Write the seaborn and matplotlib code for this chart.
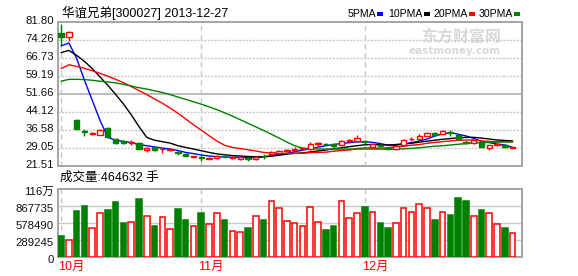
import numpy as np
import pandas as pd
import matplotlib
matplotlib.use("Agg")
import matplotlib.pyplot as plt
import matplotlib.transforms as mtransforms
from matplotlib.patches import Rectangle
import seaborn as sns

# ---------------- data ----------------
title_text = "华谊兄弟[300027] 2013-12-27"
vol_text = "成交量:464632 手"
month_labels = ["10月", "11月", "12月"]
month_idx = [0, 18, 39]
price_ticks = [21.51, 29.05, 36.58, 44.12, 51.66, 59.19, 66.73, 74.26, 81.80]
vol_ticks = [0, 289245, 578490, 867735, 1156980]
vol_tick_labels = ["0", "289245", "578490", "867735", "116万"]
ma_names = ["5PMA", "10PMA", "20PMA", "30PMA"]

opens = [77.3, 75.5, 40.6, 36.2, 34.9, 34.6, 37.4, 32.9, 31.8, 31.3,
         31.3, 28.2, 29.6, 28.5, 28.4, 27.2, 26.4, 25.4, 25.1, 24.6,
         25.0, 25.7, 24.9, 24.5, 24.7, 24.3, 25.9, 26.4, 26.8, 27.9,
         28.4, 28.7, 28.5, 30.9, 30.9, 30.7, 30.3, 32.0, 32.1, 31.9,
         29.3, 30.2, 29.1, 28.5, 30.3, 32.7, 32.9, 34.2, 35.4, 35.0,
         35.5, 34.5, 31.5, 31.3, 31.6, 29.2, 30.3, 30.4, 29.2]
highs = [80.8, 77.9, 41.3, 36.9, 35.6, 37.2, 38.0, 33.3, 32.2, 32.4,
         31.6, 29.3, 29.9, 29.3, 29.0, 27.9, 26.9, 25.8, 25.7, 25.2,
         26.3, 26.1, 25.6, 25.6, 25.3, 25.6, 26.4, 27.9, 28.3, 28.8,
         29.3, 29.6, 31.4, 31.7, 31.3, 31.3, 32.3, 32.7, 34.4, 32.5,
         30.9, 30.9, 29.3, 30.2, 32.7, 33.7, 34.8, 35.9, 35.9, 36.6,
         36.6, 34.9, 32.5, 32.4, 31.9, 30.5, 31.0, 30.7, 29.6]
lows = [72.3, 73.8, 36.9, 33.9, 34.6, 34.3, 33.2, 30.9, 30.8, 30.4,
        28.6, 27.4, 27.8, 27.0, 27.8, 26.0, 25.5, 25.3, 23.6, 24.4,
        24.3, 25.0, 24.6, 24.2, 23.6, 24.2, 24.5, 25.6, 26.6, 27.6,
        27.9, 28.3, 28.3, 29.8, 30.1, 29.0, 30.0, 31.0, 31.7, 30.8,
        29.0, 29.6, 28.6, 28.4, 30.1, 32.0, 32.6, 33.9, 33.9, 34.8,
        34.2, 32.6, 30.9, 30.9, 29.3, 28.4, 30.0, 29.2, 29.0]
closes = [75.6, 77.6, 37.1, 35.9, 35.2, 36.7, 33.6, 31.3, 31.0, 31.5,
          28.7, 29.0, 28.2, 28.7, 28.6, 26.8, 25.8, 25.7, 24.9, 25.0,
          25.8, 25.5, 25.1, 25.3, 24.3, 25.4, 25.7, 27.5, 27.9, 28.2,
          28.6, 28.9, 30.7, 31.1, 30.7, 30.0, 32.0, 32.2, 33.1, 31.7,
          30.6, 30.0, 28.8, 29.9, 32.4, 32.9, 34.1, 35.3, 34.6, 36.0,
          35.4, 32.7, 31.3, 32.4, 29.6, 30.3, 30.8, 29.3, 29.5]
volumes = [359000, 285000, 786000, 872000, 496000, 747000, 804000, 940000, 581000, 593000,
           992000, 695000, 530000, 678000, 473000, 821000, 633000, 524000, 752000, 559000,
           747000, 633000, 439000, 422000, 496000, 695000, 633000, 952000, 832000, 610000,
           576000, 524000, 849000, 593000, 462000, 530000, 952000, 661000, 747000, 855000,
           764000, 581000, 496000, 576000, 832000, 764000, 900000, 832000, 633000, 764000,
           718000, 1009000, 957000, 695000, 804000, 747000, 559000, 496000, 405000]
ma5 = [71.8, 73.0, 66.5, 57.4, 49.0, 40.6, 33.5, 32.3, 31.8, 31.3,
       30.5, 30.0, 29.5, 29.0, 28.6, 28.0, 27.2, 26.7, 26.1, 25.7,
       25.4, 25.3, 25.2, 25.1, 25.0, 25.0, 25.3, 25.8, 26.4, 26.8,
       27.5, 28.1, 28.8, 29.4, 30.0, 30.5, 30.9, 31.3, 31.6, 31.7,
       31.4, 30.9, 30.2, 30.2, 30.7, 31.3, 32.0, 32.8, 34.1, 34.9,
       35.5, 34.8, 34.1, 33.1, 31.8, 31.3, 30.7, 30.3, 29.3]
ma10 = [69.0, 69.9, 67.8, 65.3, 62.3, 58.8, 55.3, 51.5, 47.5, 43.0,
        38.0, 33.5, 32.3, 31.7, 31.1, 30.0, 29.3, 28.6, 27.9, 27.2,
        26.6, 26.2, 25.9, 25.7, 25.5, 25.4, 25.4, 25.6, 26.0, 26.5,
        26.8, 27.0, 27.4, 27.8, 28.2, 28.7, 29.1, 29.6, 30.0, 30.4,
        30.5, 30.4, 30.3, 30.5, 30.8, 31.0, 31.5, 31.9, 32.3, 32.7,
        33.0, 33.3, 33.5, 33.5, 33.2, 32.8, 32.4, 32.2, 32.0]
ma20 = [62.3, 63.9, 63.2, 62.4, 61.4, 60.3, 59.1, 57.8, 56.4, 54.8,
        53.1, 51.4, 49.6, 47.8, 45.8, 43.6, 41.2, 38.8, 36.5, 34.2,
        32.0, 30.2, 29.3, 28.8, 28.3, 27.8, 27.2, 26.9, 26.8, 26.8,
        26.8, 26.8, 27.1, 27.2, 27.3, 27.7, 28.0, 28.2, 28.8, 29.1,
        29.1, 28.9, 29.2, 29.5, 29.8, 30.2, 30.5, 31.0, 31.4, 31.7,
        32.0, 32.3, 32.4, 32.4, 32.0, 31.8, 31.7, 31.7, 31.6]
ma30 = [57.0, 57.8, 57.8, 57.7, 57.4, 57.0, 56.7, 56.3, 55.7, 55.0,
        54.3, 53.7, 53.0, 52.3, 51.4, 50.4, 49.4, 48.4, 47.4, 46.3,
        45.1, 43.8, 42.4, 40.9, 39.4, 37.9, 36.4, 34.8, 33.2, 31.5,
        30.0, 29.0, 28.7, 28.6, 28.6, 28.6, 28.6, 28.6, 28.6, 28.6,
        28.6, 28.6, 28.6, 28.6, 28.7, 28.9, 29.1, 29.5, 29.8, 30.0,
        30.3, 30.6, 30.9, 31.1, 31.3, 31.4, 31.5, 31.6, 31.6]

# ---------------- style ----------------
sns.set_theme(style="white")
FONTS = ['Liberation Sans', 'DejaVu Sans', 'Noto Sans CJK SC']
plt.rcParams['font.family'] = FONTS
plt.rcParams['axes.unicode_minus'] = False

RED = "#ff0000"
GREEN = "#008000"
BLUE = "#0000ff"
BLACK = "#000000"
FRAME = "#a4a4a4"
GRID = "#c8c8c8"
ma_colors = [BLUE, BLACK, RED, GREEN]

W, H = 578, 276
fig = plt.figure(figsize=(W / 100, H / 100), dpi=100)
fig.patch.set_facecolor("white")


def fx(x):
    return x / W


def fy(y):
    return 1 - y / H


ax = fig.add_axes([fx(58), fy(166), (522 - 58) / W, (166 - 22) / H])
axv = fig.add_axes([fx(58), fy(257), (522 - 58) / W, (257 - 189) / H])

n = len(closes)
idx = np.arange(n)
df = pd.DataFrame({"idx": idx, "open": opens, "high": highs, "low": lows,
                   "close": closes, "volume": volumes})
df["up"] = df["close"] >= df["open"]

# ---------------- price panel ----------------
for t in price_ticks[1:-1]:
    if abs(t - 51.66) < 1e-6:
        ax.axhline(t, color="#a8a8a8", lw=1.1, zorder=1)
    else:
        ax.axhline(t, color=GRID, lw=1.0, ls=(0, (1.5, 1.0)), zorder=1)
for m in month_idx:
    ax.axvline(m, color="#c4c4c4", lw=1.0, ls=(0, (3.5, 3)), zorder=1)

# watermark
ax.text(0.955, 0.895, "东方财富网", transform=ax.transAxes, ha="right", va="center",
        fontsize=11.5, fontweight="bold", color="#d9d9d9", family=FONTS, zorder=0.5)
ax.text(0.955, 0.80, "eastmoney.com", transform=ax.transAxes, ha="right", va="center",
        fontsize=7.5, fontweight="bold", color="#d9d9d9", family=['DejaVu Sans'], zorder=0.5)

# MA lines via seaborn
ma_long = pd.DataFrame({
    "idx": np.concatenate([idx] * 4),
    "value": np.concatenate([ma5, ma10, ma20, ma30]),
    "ma": np.repeat(ma_names, n),
})
sns.lineplot(data=ma_long, x="idx", y="value", hue="ma", hue_order=ma_names,
             palette=dict(zip(ma_names, ma_colors)), ax=ax, legend=False,
             linewidth=1.0, zorder=3, estimator=None, sort=True)

# candles
cw = 0.68
col = np.where(df["up"], RED, GREEN)
ax.vlines(df["idx"], df["low"], df["high"], colors=col, lw=1.0, zorder=4)
body_bottom = np.minimum(df["open"], df["close"])
body_h = np.maximum(np.abs(df["close"] - df["open"]), 0.15)
face = np.where(df["up"], "white", GREEN)
ax.bar(df["idx"], body_h, bottom=body_bottom, width=cw, color=face,
       edgecolor=col, linewidth=1.0, zorder=5)

ax.set_xlim(-0.4, 59.2)
ax.set_ylim(price_ticks[0], price_ticks[-1])
ax.set_xticks([])
ax.set_yticks(price_ticks)
ax.set_yticklabels([f"{t:.2f}" for t in price_ticks])
ax.set_xlabel("")
ax.set_ylabel("")
ax.tick_params(axis="y", length=0, pad=3, labelsize=8.2, labelcolor="#111111")
off_up = mtransforms.ScaledTranslation(0, 2 / 100, fig.dpi_scale_trans)
for lab in ax.get_yticklabels():
    lab.set_transform(lab.get_transform() + off_up)
for s in ax.spines.values():
    s.set_color(FRAME)
    s.set_linewidth(1.4)
    s.set_visible(True)

# ---------------- volume panel ----------------
for t in vol_ticks[1:-1]:
    axv.axhline(t, color=GRID, lw=1.0, zorder=1)
for m in month_idx:
    axv.axvline(m, color="#c4c4c4", lw=1.0, ls=(0, (3.5, 3)), zorder=1)
vface = np.where(df["up"], "white", GREEN)
axv.bar(df["idx"], df["volume"], width=0.72, color=vface, edgecolor=col,
        linewidth=1.1, zorder=3)
axv.set_xlim(-0.4, 59.2)
axv.set_ylim(vol_ticks[0], vol_ticks[-1])
axv.set_xticks([])
axv.set_yticks(vol_ticks)
axv.set_yticklabels(vol_tick_labels)
axv.set_xlabel("")
axv.set_ylabel("")
axv.tick_params(axis="y", length=0, pad=3, labelsize=8.2, labelcolor="#111111")
off_dn = mtransforms.ScaledTranslation(0, -2 / 100, fig.dpi_scale_trans)
for lab in axv.get_yticklabels():
    lab.set_transform(lab.get_transform() + off_dn)
for s in axv.spines.values():
    s.set_color(FRAME)
    s.set_linewidth(1.4)
    s.set_visible(True)

# month labels
tr = mtransforms.blended_transform_factory(axv.transData, axv.transAxes)
for m, lab in zip(month_idx, month_labels):
    axv.text(m - 0.38, -0.15, lab, transform=tr, ha="left", va="center",
             fontsize=9, color=RED, family=FONTS)

# ---------------- header texts ----------------
fig.text(fx(62), fy(13), title_text, ha="left", va="center", fontsize=9,
         color=BLACK, family=FONTS)
fig.text(fx(60), fy(178), vol_text, ha="left", va="center", fontsize=9,
         color=BLACK, family=FONTS)

leg_sq_x = [377, 424, 469, 514]
for name, c, sx in zip(ma_names, ma_colors, leg_sq_x):
    fig.text(fx(sx - 1), fy(14), name, ha="right", va="center", fontsize=7.6,
             color=BLACK, family=FONTS)
    fig.add_artist(Rectangle((fx(sx), fy(15.5)), 6 / W, 3 / H, transform=fig.transFigure,
                             facecolor=c, edgecolor="none"))

fig.savefig("out.png", dpi=100, facecolor="white")
